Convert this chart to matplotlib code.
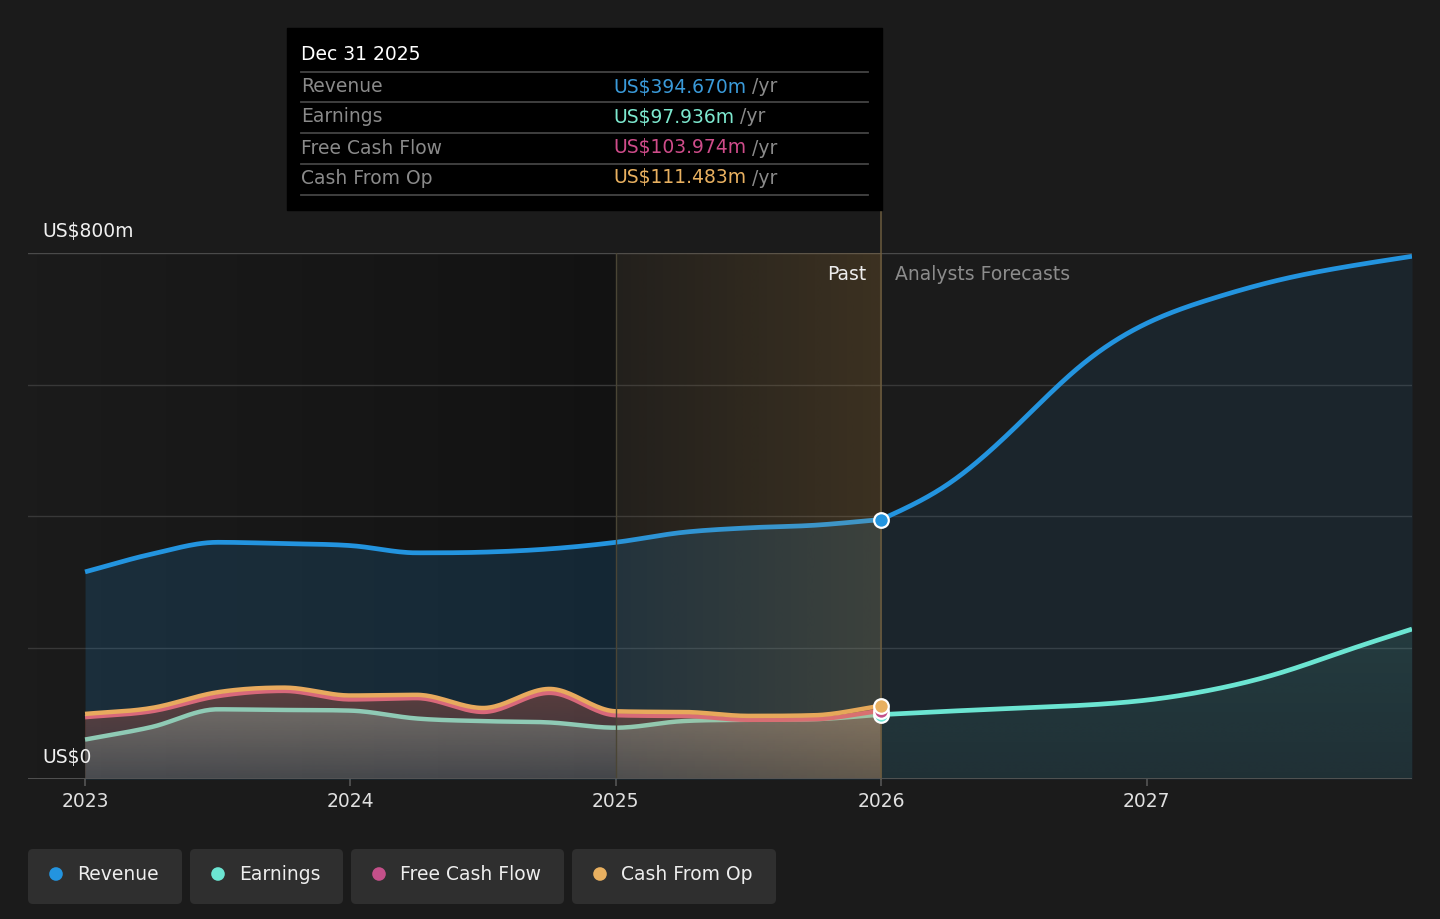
import numpy as np
import matplotlib
matplotlib.use("Agg")
import matplotlib.pyplot as plt
from matplotlib.colors import to_rgb
from matplotlib.patches import Rectangle, FancyBboxPatch, Circle

# values in US$ m
past_dates = [2023.0, 2023.25, 2023.5, 2023.75, 2024.0, 2024.25, 2024.5,
              2024.75, 2025.0, 2025.25, 2025.5, 2025.75, 2026.0]
revenue_past = [315, 342, 360, 358, 355, 344, 345, 350, 360, 375, 382, 386, 394.67]
earnings_past = [60, 79, 106, 105, 104, 92, 88, 86, 78, 88, 90, 91, 97.94]
fcf_past = [94, 103, 126, 134, 121, 123, 102, 131, 97, 96, 90, 91, 103.97]
cfo_past = [99, 108, 132, 139, 127, 128, 108, 137, 103, 102, 96, 97, 111.48]

fc_dates = [2026.0, 2026.25, 2026.5, 2026.75, 2027.0, 2027.25, 2027.5, 2027.75, 2028.0]
revenue_fc = [394.67, 448, 533, 628, 693, 731, 759, 779, 795]
earnings_fc = [97.94, 103, 107.5, 112, 120, 136, 161, 195, 228]

year_ticks = [2023, 2024, 2025, 2026, 2027]
series = ["Revenue", "Earnings", "Free Cash Flow", "Cash From Op"]
tip_values = ["US$394.670m", "US$97.936m", "US$103.974m", "US$111.483m"]

BG = "#1b1b1b"
C_REV = "#2394df"
C_EARN = "#6ce5d2"
C_FCF = "#c4508a"
C_CFO = "#e8b060"
TIP_COLS = ["#3a9ad9", "#7de8cf", "#cf4c8a", "#e8b060"]
FS = 13.5

W, H = 1440, 919


def monotone(xs, ys, n=300):
    # monotone cubic (Fritsch-Carlson), only for drawing the history lines
    xs = np.asarray(xs, float)
    ys = np.asarray(ys, float)
    h = np.diff(xs)
    d = np.diff(ys) / h
    m = np.zeros_like(ys)
    m[0], m[-1] = d[0], d[-1]
    for k in range(1, len(ys) - 1):
        m[k] = 0 if d[k - 1] * d[k] <= 0 else (d[k - 1] + d[k]) / 2
    for k in range(len(d)):
        if d[k] == 0:
            m[k] = m[k + 1] = 0
            continue
        a, b = m[k] / d[k], m[k + 1] / d[k]
        s = a * a + b * b
        if s > 9:
            t = 3 / np.sqrt(s)
            m[k], m[k + 1] = t * a * d[k], t * b * d[k]
    xx = np.linspace(xs[0], xs[-1], n)
    i = np.clip(np.searchsorted(xs, xx, side="right") - 1, 0, len(h) - 1)
    t = (xx - xs[i]) / h[i]
    yy = ((2 * t**3 - 3 * t**2 + 1) * ys[i] + (t**3 - 2 * t**2 + t) * h[i] * m[i]
          + (-2 * t**3 + 3 * t**2) * ys[i + 1] + (t**3 - t**2) * h[i] * m[i + 1])
    return xx, yy


def spline(xs, ys, n=300):
    # natural cubic spline for the forecast curves
    xs = np.asarray(xs, float)
    ys = np.asarray(ys, float)
    k = len(xs)
    h = np.diff(xs)
    A = np.zeros((k, k))
    r = np.zeros(k)
    A[0, 0] = A[-1, -1] = 1
    for i in range(1, k - 1):
        A[i, i - 1] = h[i - 1]
        A[i, i] = 2 * (h[i - 1] + h[i])
        A[i, i + 1] = h[i]
        r[i] = 6 * ((ys[i + 1] - ys[i]) / h[i] - (ys[i] - ys[i - 1]) / h[i - 1])
    M = np.linalg.solve(A, r)
    xx = np.linspace(xs[0], xs[-1], n)
    j = np.clip(np.searchsorted(xs, xx, side="right") - 1, 0, k - 2)
    a = xs[j + 1] - xx
    b = xx - xs[j]
    hj = h[j]
    yy = (M[j] * a**3 / (6 * hj) + M[j + 1] * b**3 / (6 * hj)
          + (ys[j] / hj - M[j] * hj / 6) * a + (ys[j + 1] / hj - M[j + 1] * hj / 6) * b)
    return xx, yy


def grad_fill(ax, x, y, color, a_top, a_bot, ytop, z):
    poly = ax.fill_between(x, y, 0, color="none", lw=0)
    img = np.zeros((200, 1, 4))
    img[..., :3] = to_rgb(color)
    img[:, 0, 3] = np.linspace(a_top, a_bot, 200)
    im = ax.imshow(img, extent=[x[0], x[-1], 0, ytop], origin="upper",
                   aspect="auto", zorder=z, interpolation="bilinear")
    im.set_clip_path(poly.get_paths()[0], transform=ax.transData)


def hgrad(ax, x0, x1, color, a0, a1, y1, z):
    img = np.zeros((1, 200, 4))
    img[..., :3] = to_rgb(color)
    img[0, :, 3] = np.linspace(a0, a1, 200)
    ax.imshow(img, extent=[x0, x1, 0, y1], origin="upper", aspect="auto",
              zorder=z, interpolation="bilinear")


fig = plt.figure(figsize=(W / 100, H / 100), dpi=100, facecolor=BG)
ax = fig.add_axes([28 / W, (H - 779) / H, 1384 / W, 526 / H])
ax.set_facecolor("none")
x_lo, x_hi = 2022.785, 2028.0

# darker band behind the older history
hgrad(ax, x_lo, 2025.0, "#000000", 0.0, 0.32, 800, 0)

for g in [200, 400, 600]:
    ax.axhline(g, color="#383838", lw=1, zorder=1)
ax.axhline(800, color="#4a4a4a", lw=1, zorder=1)
ax.axhline(0, color="#555555", lw=1.3, zorder=7)

xr, yr = monotone(past_dates, revenue_past)
xe, ye = monotone(past_dates, earnings_past)
xf, yf = monotone(past_dates, fcf_past)
xc, yc = monotone(past_dates, cfo_past)
xrf, yrf = spline(fc_dates, revenue_fc)
xef, yef = spline(fc_dates, earnings_fc)

ax.fill_between(xr, yr, 0, color=C_REV, alpha=0.17, lw=0, zorder=2)
ax.fill_between(xrf, yrf, 0, color=C_REV, alpha=0.09, lw=0, zorder=2)
grad_fill(ax, xef, yef, C_EARN, 0.12, 0.06, 230, 2.5)

grad_fill(ax, xc, yc, "#e86a50", 0.33, 0.15, 140, 3)
grad_fill(ax, xe, ye, "#9fbbad", 0.36, 0.15, 106, 3.2)

ax.plot(xe, ye, color="#8fcab5", lw=3.2, zorder=4, solid_capstyle="butt")
ax.plot(xf, yf, color="#d8687a", lw=3.2, zorder=4.2, solid_capstyle="butt")
ax.plot(xc, yc, color="#e8aa5e", lw=3.2, zorder=4.4, solid_capstyle="butt")
ax.plot(xef, yef, color=C_EARN, lw=3.4, zorder=4.5, solid_capstyle="butt")
ax.plot(xr, yr, color=C_REV, lw=3.4, zorder=4.6, solid_capstyle="butt")
ax.plot(xrf, yrf, color=C_REV, lw=3.4, zorder=4.6, solid_capstyle="butt")

# past-year highlight
hgrad(ax, 2025.0, 2026.0, "#e0a040", 0.04, 0.17, 800, 6)
ax.plot([2025, 2025], [0, 800], color="#4a4535", lw=1, zorder=6.5)
ax.plot([2026, 2026], [0, 865], color="#6b5b3e", lw=1.1, zorder=6.5, clip_on=False)

mk = dict(ms=10.5, mec="white", mew=1.6, zorder=9, clip_on=False)
ax.plot([2026], [earnings_past[-1]], "o", mfc=C_EARN, **mk)
ax.plot([2026], [fcf_past[-1]], "o", mfc=C_FCF, **mk)
ax.plot([2026], [cfo_past[-1]], "o", mfc=C_CFO, **mk)
ax.plot([2026], [revenue_past[-1]], "o", mfc=C_REV, **mk)

ax.set_xlim(x_lo, x_hi)
ax.set_ylim(0, 800)
for s in ax.spines.values():
    s.set_visible(False)
ax.set_yticks([])
ax.set_xticks(year_ticks)
ax.set_xticklabels([str(y) for y in year_ticks])
ax.tick_params(axis="x", colors="#555555", labelcolor="#e0e0e0",
               labelsize=FS, length=5, width=1.2, pad=4.5)


def px(x, y):
    return x / W, 1 - y / H


fig.text(*px(42, 232), "US$800m", color="#f0f0f0", fontsize=FS, va="center")
fig.text(*px(42, 758), "US$0", color="#f0f0f0", fontsize=FS, va="center")
fig.text(*px(866, 274), "Past", color="#eeeeee", fontsize=FS, va="center", ha="right")
fig.text(*px(895, 274), "Analysts Forecasts", color="#8c8c8c", fontsize=FS, va="center")

# tooltip
fig.add_artist(Rectangle(px(287, 210), 595 / W, 182 / H, transform=fig.transFigure,
                         color="black", zorder=10))
fig.text(*px(301, 55), "Dec 31 2025", color="white", fontsize=FS, va="center", zorder=11)
for yy in [72, 102, 133, 164, 195]:
    fig.add_artist(plt.Line2D([301 / W, 868 / W], [1 - yy / H] * 2, color="#444444",
                              lw=1.3, transform=fig.transFigure, zorder=11))
for k, (name, val) in enumerate(zip(series, tip_values)):
    yy = [87, 117, 148, 178][k]
    fig.text(*px(301, yy), name, color="#8a8a8a", fontsize=FS, va="center", zorder=11)
    t = fig.text(*px(613, yy), val, color=TIP_COLS[k], fontsize=FS, va="center", zorder=11)
    fig.add_artist(matplotlib.text.Annotation(" /yr", xy=(1, 0), xycoords=t, va="bottom",
                                              color="#8a8a8a", fontsize=FS, zorder=11))

# legend chips
boxes = [(28, 182), (190, 343), (351, 564), (572, 776)]
dots = [C_REV, C_EARN, C_FCF, C_CFO]
for (x0, x1), name, c in zip(boxes, series, dots):
    fig.add_artist(FancyBboxPatch((x0 / 100, 15 / 100), (x1 - x0) / 100, 55 / 100,
                                  boxstyle="round,pad=0,rounding_size=0.05",
                                  transform=fig.dpi_scale_trans, fc="#2f2f2f", ec="none"))
    fig.add_artist(Circle(((x0 + 28) / 100, (H - 874) / 100), 0.068,
                          transform=fig.dpi_scale_trans, fc=c, ec="none"))
    fig.text(*px(x0 + 49, 874), name, color="#eeeeee", fontsize=FS, va="center")

fig.savefig("out.png", dpi=100, facecolor=BG)
